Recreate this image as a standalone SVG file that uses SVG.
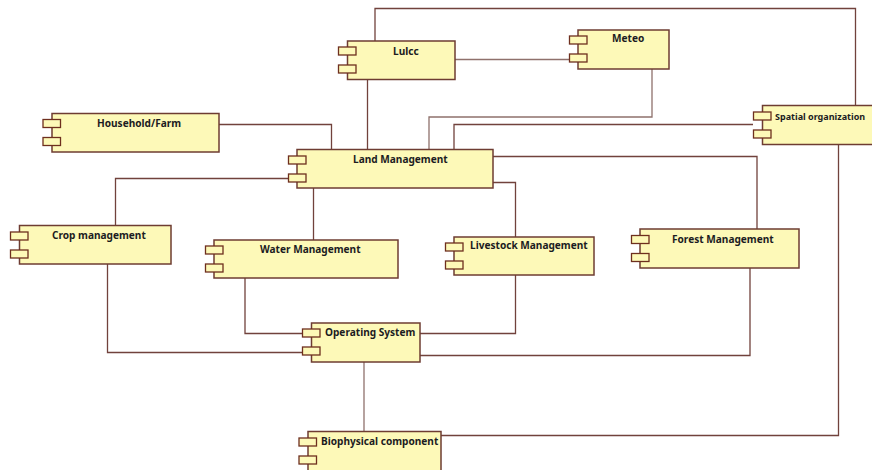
<svg xmlns="http://www.w3.org/2000/svg" width="872" height="470" viewBox="0 0 872 470">
<defs>
<style>
.b{fill:#fdf9b8;stroke:#6e3c32;stroke-width:1.5}
.p{fill:#fdf9b8;stroke:#6e2f1e;stroke-width:1.3}
.c{fill:none;stroke:#71423c;stroke-width:1.3}
.l{stroke:#8f716c}
text{font-family:"Noto Sans","Liberation Sans",sans-serif;font-weight:700;font-size:10.1px;fill:#1c1c22}
</style>
<g id="ports"><rect class="p" x="0" y="0" width="17.500" height="8"/><rect class="p" x="0" y="18" width="17.500" height="8"/></g>
</defs>
<rect width="872" height="470" fill="#fff"/>
<g id="connectors">
<path class="c" d="M375 41V8.500H855.500V105.500"/>
<path class="c l" d="M455 59.500H569"/>
<path class="c" d="M367.500 79.500V149.500"/>
<path class="c l" d="M652 69V117H429V149.500"/>
<path class="c" d="M753 124.500H454V149.500"/>
<path class="c" d="M219 124.500H331.500V149.500"/>
<path class="c" d="M288 178.500H115.500V225.500"/>
<path class="c" d="M313.500 188V240"/>
<path class="c" d="M493 182.500H515.500V237"/>
<path class="c" d="M493 156.500H757V229"/>
<path class="c" d="M107.500 264V352.500H303"/>
<path class="c" d="M245 278V333.500H303"/>
<path class="c" d="M515.500 275V333.500H420"/>
<path class="c" d="M750 268V355.500H420"/>
<path class="c l" d="M364 362V431.500"/>
<path class="c" d="M441 435.500H838.500V145"/>
</g>
<g id="lulcc"><rect class="b" x="347.500" y="41" width="107.500" height="38.500"/><use href="#ports" x="338.500" y="47"/><text x="393" y="55">Lulcc</text></g>
<g id="meteo"><rect class="b" x="578" y="30" width="91" height="39"/><use href="#ports" x="569.500" y="36"/><text x="612" y="42">Meteo</text></g>
<g id="household"><rect class="b" x="52" y="113.500" width="167" height="38.500"/><use href="#ports" x="43" y="119.500"/><text x="97" y="127">Household/Farm</text></g>
<g id="land"><rect class="b" x="297" y="149.500" width="196" height="38.500"/><use href="#ports" x="288.500" y="156"/><text x="353" y="163">Land Management</text></g>
<g id="spatial"><rect class="b" x="762.500" y="105.500" width="112" height="39"/><use href="#ports" x="753.500" y="112"/><text x="775" y="120" font-size="9" style="font-size:9px">Spatial organization</text></g>
<g id="crop"><rect class="b" x="19.500" y="225.500" width="151.500" height="38.500"/><use href="#ports" x="10.500" y="232"/><text x="52" y="239">Crop management</text></g>
<g id="water"><rect class="b" x="214" y="240" width="184" height="38"/><use href="#ports" x="205.500" y="246"/><text x="260" y="253">Water Management</text></g>
<g id="livestock"><rect class="b" x="454" y="237" width="140" height="38"/><use href="#ports" x="445.500" y="243"/><text x="470" y="249">Livestock Management</text></g>
<g id="forest"><rect class="b" x="640" y="229" width="159" height="39"/><use href="#ports" x="631.500" y="235.500"/><text x="672" y="243">Forest Management</text></g>
<g id="operating"><rect class="b" x="311.500" y="323" width="108.500" height="39"/><use href="#ports" x="302.500" y="329"/><text x="325" y="336">Operating System</text></g>
<g id="biophysical"><rect class="b" x="308" y="431.500" width="133" height="45"/><use href="#ports" x="299" y="438"/><text x="321" y="445">Biophysical component</text></g>
</svg>
